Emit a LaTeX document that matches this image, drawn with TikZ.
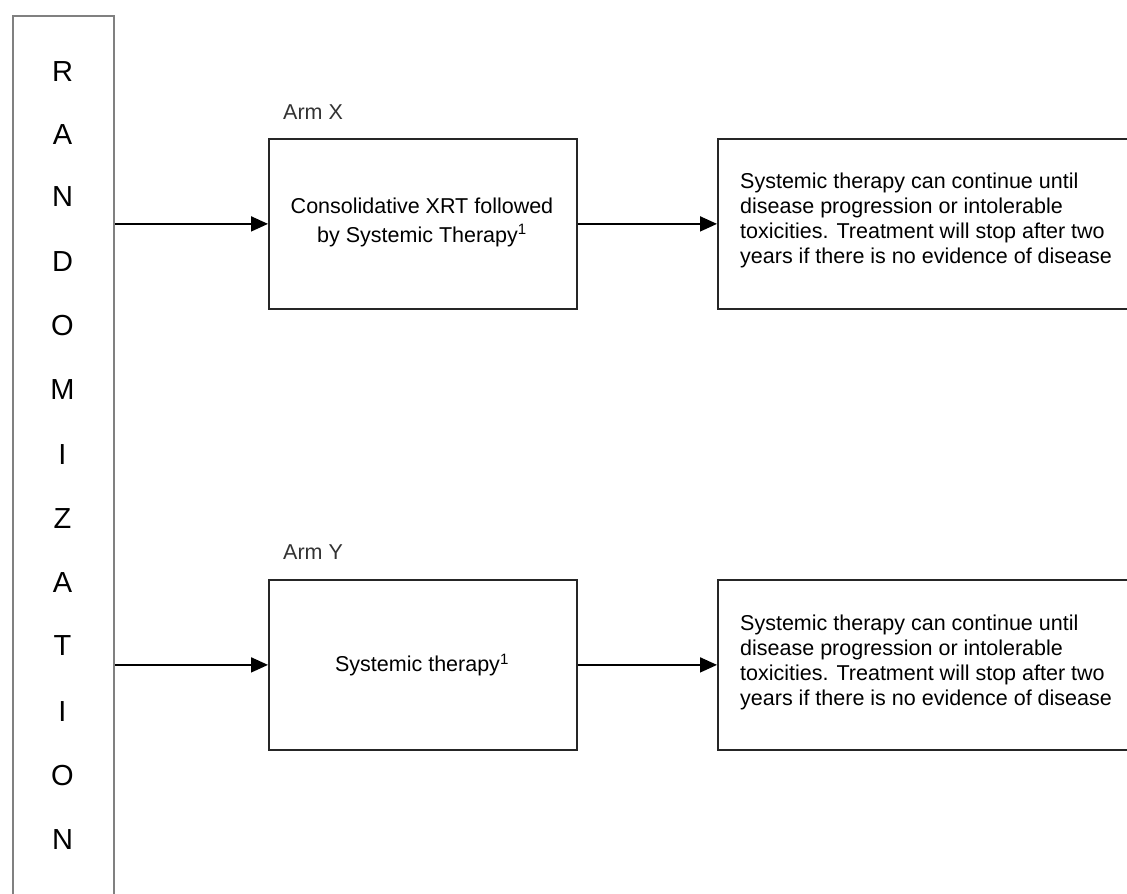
\documentclass[tikz,border=0pt]{standalone}
\usepackage{fontspec}
\setmainfont{Liberation Sans}
\usetikzlibrary{arrows.meta}
\begin{document}
\begin{tikzpicture}[x=1pt,y=-1pt,
  boxstyle/.style={draw=black!85, line width=1.8pt, rectangle, inner sep=0pt, anchor=north west},
  randbox/.style={draw=black!50, line width=2.4pt, rectangle, inner sep=0pt, anchor=north west},
  letter/.style={font=\fontsize{29}{30}\selectfont, text=black, inner sep=0pt},
  bodytext/.style={font=\fontsize{21.5}{25}\selectfont, text=black, inner sep=0pt},
  armlabel/.style={font=\fontsize{21.5}{24}\selectfont, text=black!80, inner sep=0pt, anchor=west},
  conn/.style={line width=1.8pt, draw=black, -{Triangle[length=17pt,width=15pt]}}
]
\useasboundingbox (0,0) rectangle (1127,894);
\fill[white] (0,0) rectangle (1127,894);

% randomization box (runs past the bottom edge)
\node[randbox, minimum width=101pt, minimum height=920pt] (rand) at (12,15) {};
\foreach \l/\yy [count=\i] in {R/72,A/135,N/197,D/262,O/326,M/390,I/455,Z/519,A/583,T/646,I/712,O/776,N/840}
  \node[letter] (let\i) at (62.5,\yy) {\l};

% Arm X
\node[armlabel] (armx) at (283,112) {Arm X};
\node[boxstyle, minimum width=308pt, minimum height=170pt] (x1) at (268,138) {};
\node[bodytext, align=center, font=\fontsize{21.5}{29}\selectfont] (x1t) at (422,222) {Consolidative XRT followed\\by Systemic Therapy\textsuperscript{1}};
\node[boxstyle, minimum width=430pt, minimum height=170pt] (x2) at (717,138) {};
\node[bodytext, align=left, anchor=west] (x2t) at (740,220) {Systemic therapy can continue until\\disease progression or intolerable\\toxicities. Treatment will stop after two\\years if there is no evidence of disease};

% Arm Y
\node[armlabel] (army) at (283,552) {Arm Y};
\node[boxstyle, minimum width=308pt, minimum height=170pt] (y1) at (268,579) {};
\node[bodytext] (y1t) at (422,665) {Systemic therapy\textsuperscript{1}};
\node[boxstyle, minimum width=430pt, minimum height=170pt] (y2) at (717,579) {};
\node[bodytext, align=left, anchor=west] (y2t) at (740,662) {Systemic therapy can continue until\\disease progression or intolerable\\toxicities. Treatment will stop after two\\years if there is no evidence of disease};

% connectors
\coordinate (rx) at (rand.north east |- x1.west);
\coordinate (ry) at (rand.north east |- y1.west);
\draw[conn] (rx) -- (x1.west);
\draw[conn] (x1.east) -- (x2.west |- x1.east);
\draw[conn] (ry) -- (y1.west);
\draw[conn] (y1.east) -- (y2.west |- y1.east);
\end{tikzpicture}
\end{document}
